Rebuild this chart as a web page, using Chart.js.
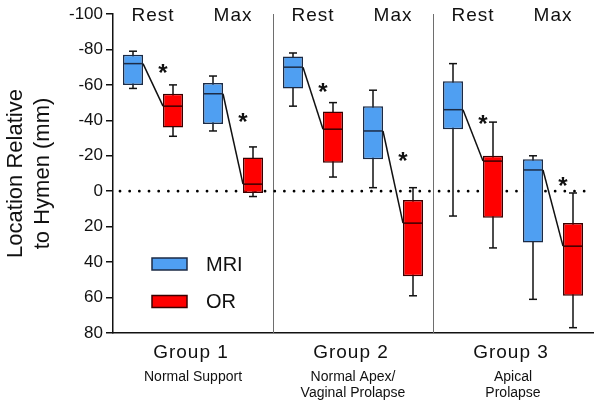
<!DOCTYPE html>
<html>
<head>
<meta charset="utf-8">
<script src="https://cdn.jsdelivr.net/npm/chart.js@4.4.0/dist/chart.umd.min.js"></script>
<style>
  body { margin: 0; background: #fff; }
  canvas { display: block; }
</style>
</head>
<body>
<canvas id="boxChart" width="601" height="405"></canvas>
<script>
// Groups and states; every box pair is MRI then OR
const groups = ['Group 1', 'Group 2', 'Group 3'];
const groupNotes = [['Normal Support'], ['Normal Apex/', 'Vaginal Prolapse'], ['Apical', 'Prolapse']];
const states = ['Rest', 'Max'];
const series = ['MRI', 'OR'];

// y axis (mm, reversed: negative is above the hymen)
const yMin = -100;
const yMax = 80;
const yStep = 20;

// box values, order: G1 Rest, G1 Max, G2 Rest, G2 Max, G3 Rest, G3 Max
const mriLow    = [-79, -65, -78, -57, -72, -20];
const mriQ1     = [-77, -61, -76, -48, -62, -18];
const mriMedian = [-72, -55, -70, -34, -46, -12];
const mriQ3     = [-60, -38, -58, -18, -35, 29];
const mriHigh   = [-58, -34, -48, -2, 14, 61];

const orLow     = [-60, -25, -50, -2, -39, 1];
const orQ1      = [-55, -19, -45, 5, -20, 18];
const orMedian  = [-48, -4, -35, 18, -17, 31];
const orQ3      = [-36, 1, -16, 48, 15, 59];
const orHigh    = [-31, 3, -8, 59, 32, 77];

// where the significance stars sit
const starValues = [-68, -40, -57, -18, -39, -4];

const mriColor = '#4f9ff2';
const mriBorder = '#1c2b45';
const orColor = '#ff0000';
const orBorder = '#3a0000';

// 12 slots on the x axis: group > state > series
const slots = [];
groups.forEach(g => states.forEach(s => series.forEach(m => slots.push(g + ' ' + s + ' ' + m))));

function boxData(q1, q3, which) {
    const out = [];
    for (let k = 0; k < q1.length; k++) {
        const box = [q1[k], q3[k]];
        if (which === 0) out.push(box, null);
        else out.push(null, box);
    }
    return out;
}

const boxStats = [
    { low: mriLow, median: mriMedian, high: mriHigh, border: mriBorder },
    { low: orLow, median: orMedian, high: orHigh, border: orBorder }
];

const FONT = 'Arial, "Liberation Sans", sans-serif';

function line(ctx, x1, y1, x2, y2) {
    ctx.beginPath();
    ctx.moveTo(x1, y1);
    ctx.lineTo(x2, y2);
    ctx.stroke();
}

const boxPlotParts = {
    id: 'boxPlotParts',
    beforeDatasetsDraw(chart) {
        const { ctx, chartArea, scales: { x, y } } = chart;
        ctx.save();

        // group separators
        ctx.strokeStyle = '#6e6e6e';
        ctx.lineWidth = 1;
        for (let g = 1; g < groups.length; g++) {
            const sx = Math.round((x.getPixelForValue(g * 4 - 1) + x.getPixelForValue(g * 4)) / 2) + 0.5;
            line(ctx, sx, chartArea.top, sx, chartArea.bottom);
        }

        // dotted zero line
        const y0 = y.getPixelForValue(0);
        ctx.strokeStyle = '#000';
        ctx.lineWidth = 2.8;
        ctx.lineCap = 'round';
        ctx.setLineDash([0, 9.67]);
        line(ctx, chartArea.left + 7, y0, chartArea.right, y0);
        ctx.setLineDash([]);
        ctx.lineCap = 'butt';

        // whiskers and caps
        boxStats.forEach((st, d) => {
            const meta = chart.getDatasetMeta(d);
            ctx.strokeStyle = '#111';
            ctx.lineWidth = 1.5;
            st.low.forEach((v, k) => {
                const el = meta.data[2 * k + d];
                const yl = y.getPixelForValue(st.low[k]);
                const yh = y.getPixelForValue(st.high[k]);
                line(ctx, el.x, yl, el.x, yh);
                line(ctx, el.x - 4, yl, el.x + 4, yl);
                line(ctx, el.x - 4, yh, el.x + 4, yh);
            });
        });
        ctx.restore();
    },
    afterDatasetsDraw(chart) {
        const { ctx, scales: { y } } = chart;
        ctx.save();
        const metaM = chart.getDatasetMeta(0);
        const metaO = chart.getDatasetMeta(1);

        // medians
        boxStats.forEach((st, d) => {
            const meta = chart.getDatasetMeta(d);
            ctx.strokeStyle = st.border;
            ctx.lineWidth = 1.5;
            st.median.forEach((v, k) => {
                const el = meta.data[2 * k + d];
                const ym = y.getPixelForValue(v);
                line(ctx, el.x - el.width / 2, ym, el.x + el.width / 2, ym);
            });
        });

        // MRI median -> OR median links
        ctx.strokeStyle = '#111';
        ctx.lineWidth = 1.5;
        mriMedian.forEach((v, k) => {
            const a = metaM.data[2 * k];
            const b = metaO.data[2 * k + 1];
            line(ctx, a.x + a.width / 2, y.getPixelForValue(v), b.x - b.width / 2, y.getPixelForValue(orMedian[k]));
        });

        // stars
        ctx.fillStyle = '#111';
        ctx.font = 'bold 24px ' + FONT;
        ctx.textAlign = 'center';
        ctx.textBaseline = 'alphabetic';
        starValues.forEach((v, k) => {
            const b = metaO.data[2 * k + 1];
            ctx.fillText('*', b.x - b.width / 2, y.getPixelForValue(v) + 10);
        });
        ctx.restore();
    },
    afterDraw(chart) {
        const { ctx, chartArea, scales: { x } } = chart;
        ctx.save();
        ctx.fillStyle = '#111';
        ctx.textAlign = 'center';
        ctx.textBaseline = 'middle';
        ctx.letterSpacing = '1px';

        // Rest / Max headers
        ctx.font = '19px ' + FONT;
        groups.forEach((g, gi) => {
            states.forEach((s, si) => {
                const i = gi * 4 + si * 2;
                const cx = (x.getPixelForValue(i) + x.getPixelForValue(i + 1)) / 2;
                ctx.fillText(s, cx, chartArea.top + 2);
            });
        });

        // group labels below the axis
        groups.forEach((g, gi) => {
            const cx = (x.getPixelForValue(gi * 4) + x.getPixelForValue(gi * 4 + 3)) / 2;
            ctx.letterSpacing = '1px';
            ctx.font = '19px ' + FONT;
            ctx.fillText(g, cx - 2, chartArea.bottom + 20);
            ctx.letterSpacing = '0px';
            ctx.font = '14px ' + FONT;
            groupNotes[gi].forEach((t, li) => {
                ctx.fillText(t, cx, chartArea.bottom + 44 + li * 16);
            });
        });

        // legend inside the plot
        const items = [[series[0], mriColor, mriBorder], [series[1], orColor, orBorder]];
        ctx.textAlign = 'left';
        ctx.letterSpacing = '0px';
        ctx.font = '20px ' + FONT;
        items.forEach((it, i) => {
            const top = 258 + i * 37.5;
            ctx.fillStyle = it[1];
            ctx.fillRect(152, top, 35, 12);
            ctx.strokeStyle = it[2];
            ctx.lineWidth = 1.5;
            ctx.strokeRect(152, top, 35, 12);
            ctx.fillStyle = '#111';
            ctx.fillText(it[0], 206, top + 7);
        });
        ctx.restore();
    }
};

new Chart(document.getElementById('boxChart'), {
    type: 'bar',
    data: {
        labels: slots,
        datasets: [
            { label: series[0], data: boxData(mriQ1, mriQ3, 0), backgroundColor: mriColor, borderColor: mriBorder },
            { label: series[1], data: boxData(orQ1, orQ3, 1), backgroundColor: orColor, borderColor: orBorder }
        ]
    },
    options: {
        responsive: false,
        animation: false,
        devicePixelRatio: 1,
        layout: { padding: { top: 14, right: 8, left: 0, bottom: 0 } },
        datasets: {
            bar: {
                grouped: false,
                barPercentage: 0.5,
                categoryPercentage: 1,
                borderWidth: 1.5,
                borderSkipped: false
            }
        },
        plugins: {
            legend: { display: false },
            tooltip: { enabled: false }
        },
        scales: {
            x: {
                type: 'category',
                offset: true,
                grid: { display: false },
                ticks: { display: false },
                border: { display: true, color: '#111', width: 1.5 },
                afterFit(scale) { scale.height = 72; }
            },
            y: {
                type: 'linear',
                reverse: true,
                min: yMin,
                max: yMax,
                ticks: {
                    stepSize: yStep,
                    color: '#111',
                    padding: 3,
                    font: { family: FONT, size: 17 }
                },
                grid: { drawOnChartArea: false, drawTicks: true, tickLength: 7, color: '#111', lineWidth: 1.5 },
                border: { display: true, color: '#111', width: 1.5 },
                title: {
                    display: true,
                    text: ['Location Relative', 'to Hymen (mm)'],
                    color: '#111',
                    font: { family: FONT, size: 22, lineHeight: 1.25 },
                    padding: { top: 2, bottom: 0 }
                },
                afterFit(scale) { scale.width = 113; }
            }
        }
    },
    plugins: [boxPlotParts]
});
</script>
</body>
</html>
